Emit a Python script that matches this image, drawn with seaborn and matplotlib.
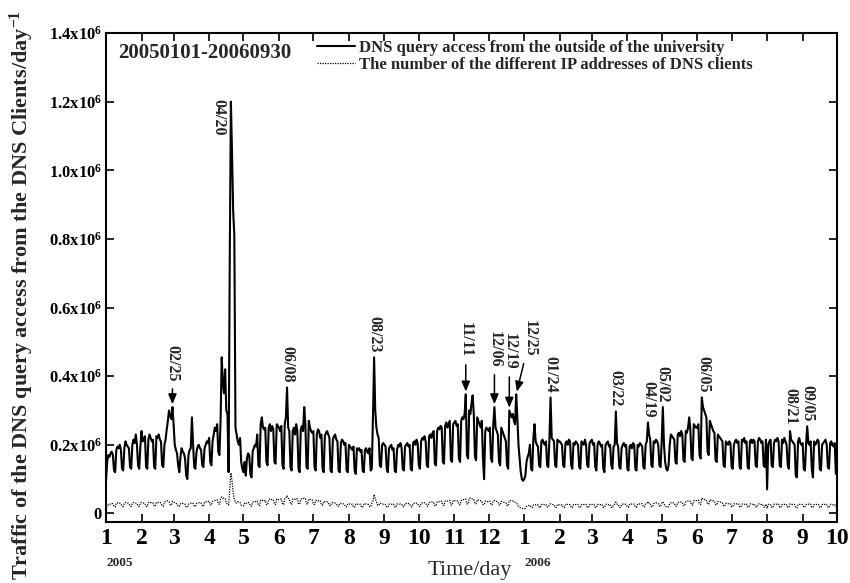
import numpy as np
import pandas as pd
import matplotlib
matplotlib.use("Agg")
import matplotlib.pyplot as plt
import seaborn as sns

# ---------------- data (values in thousands per day) ----------------
month_starts = ["2005-01-01", "2005-02-01", "2005-03-01", "2005-04-01", "2005-05-01",
                "2005-06-01", "2005-07-01", "2005-08-01", "2005-09-01", "2005-10-01",
                "2005-11-01", "2005-12-01", "2006-01-01", "2006-02-01", "2006-03-01",
                "2006-04-01", "2006-05-01", "2006-06-01", "2006-07-01", "2006-08-01",
                "2006-09-01"]

dns_k = [
    [95,150,170,165,175,180,170,125,120,185,195,190,200,185,130,125,190,210,200,195,190,135,130,200,215,205,230,200,140,130,195],
    [240,210,215,225,135,130,215,230,220,210,215,135,130,225,220,230,215,210,140,135,200,215,245,270,300,285,275,310],
    [260,200,185,175,140,120,165,190,180,175,160,110,100,170,185,190,280,200,135,130,180,195,200,190,185,140,135,190,200,210,205],
    [220,150,140,210,230,250,240,260,180,170,270,455,380,350,420,300,290,120,740,1200,1050,880,810,250,230,210,200,220,150,130],
    [120,150,110,160,175,170,115,105,180,190,200,195,230,140,135,260,280,250,245,250,150,140,250,260,240,255,245,150,145,260,255],
    [250,240,255,140,130,260,280,367,250,240,135,125,240,250,230,260,240,130,120,245,255,240,310,260,135,130,270,250,240,235],
    [240,135,125,230,245,240,220,230,130,120,225,235,240,230,220,125,120,215,225,230,215,210,125,120,205,215,210,200,205,125,120],
    [200,195,190,185,195,125,115,190,185,190,180,185,125,120,185,190,180,175,190,125,130,280,455,300,250,230,220,140,135,200,205],
    [200,195,130,120,190,195,200,185,190,125,120,185,200,195,205,190,130,125,195,200,205,195,200,130,125,205,210,200,215,205],
    [140,130,210,220,215,225,210,140,135,225,230,220,235,240,145,140,240,250,245,255,250,150,145,255,265,250,260,270,155,150,260],
    [265,270,255,260,160,150,270,280,275,290,347,170,160,300,290,320,344,290,165,155,280,270,260,250,270,160,100,240,250,245],
    [240,250,160,150,260,310,250,240,230,150,140,250,240,230,220,210,140,130,300,290,280,290,270,260,347,280,200,160,120,100,95],
    [100,110,150,165,175,200,130,125,220,260,210,200,195,140,135,210,215,205,200,210,140,135,215,338,220,215,210,140,135,215,210],
    [210,205,200,140,135,205,210,200,215,210,140,130,205,200,210,205,200,135,130,210,205,200,215,200,140,135,205,210],
    [215,200,205,135,125,200,210,205,195,200,130,120,200,205,210,195,200,140,130,195,200,297,205,195,135,130,190,200,205,195,200],
    [130,125,195,200,190,205,200,130,125,200,195,205,200,195,135,130,200,210,265,230,215,140,135,210,205,215,210,200,140,135],
    [210,310,200,150,130,125,140,200,230,225,220,215,150,145,230,235,225,240,230,155,150,240,235,250,280,245,160,155,260,255,250],
    [250,260,170,160,338,310,300,290,280,180,170,270,260,250,240,235,155,150,230,225,220,215,210,140,135,210,205,200,210,205],
    [135,130,200,210,215,205,210,135,130,215,210,220,205,210,135,130,210,215,205,215,210,140,135,210,220,215,205,210,140,135,215],
    [70,200,210,215,140,135,205,215,210,220,210,140,135,215,205,220,210,200,140,130,240,215,210,205,200,110,105,210,220,205,200],
    [205,130,125,200,254,205,200,210,130,105,210,200,205,215,210,130,125,200,205,210,215,200,135,130,205,210,200,195,205,115],
]

ip_k = [
    [18,20,25,28,27,29,28,20,19,30,31,29,30,28,21,20,30,32,31,30,29,22,20,30,32,31,30,29,21,20,31],
    [32,31,30,29,21,20,31,33,32,30,31,22,21,32,31,33,32,30,22,21,33,35,37,36,34,25,24,35],
    [34,30,29,28,21,20,28,30,29,28,27,19,18,27,29,30,31,29,21,20,29,30,31,32,30,22,21,33,34,33,35],
    [36,25,24,35,37,38,39,40,28,27,42,48,44,45,43,30,28,25,70,118,95,60,40,32,30,34,33,32,24,23],
    [22,30,28,31,32,31,22,21,33,34,35,34,36,24,23,38,40,37,36,38,26,25,40,42,39,41,40,27,26,42,41],
    [40,41,42,27,26,43,45,52,44,42,28,27,42,43,41,44,42,28,27,41,43,42,45,43,28,27,42,41,40,39],
    [27,26,38,37,36,38,37,25,24,35,34,33,34,32,23,22,31,32,31,30,29,21,20,29,30,29,28,27,20,19,28],
    [28,27,26,27,19,18,27,26,27,26,27,19,18,27,26,28,27,26,20,19,30,36,55,42,35,24,23,30,29,28,27],
    [27,26,19,18,27,28,27,26,27,19,18,27,28,27,28,27,20,19,28,29,28,29,28,20,19,29,30,29,30,29],
    [21,20,30,31,32,31,30,22,21,32,33,34,33,32,23,22,34,35,34,36,35,24,23,36,37,36,37,38,25,24,38],
    [37,38,37,36,26,25,38,39,40,41,42,28,27,44,45,43,42,41,29,28,40,39,38,37,36,26,25,36,35,34],
    [35,36,26,25,37,38,36,35,34,25,24,35,34,33,32,31,23,22,36,38,37,36,35,33,30,27,22,18,16,15,14],
    [14,15,20,22,23,24,18,17,25,26,25,24,25,18,17,26,27,26,25,26,19,18,26,28,27,26,25,18,17,26,25],
    [26,25,26,18,17,26,27,26,25,26,18,17,26,25,26,27,26,18,17,26,25,26,27,26,18,17,26,27],
    [26,27,26,18,17,26,27,26,25,26,18,17,26,27,26,25,26,18,17,26,27,33,27,26,18,17,26,27,28,27,26],
    [19,18,27,28,27,28,27,19,18,28,27,28,29,28,20,19,28,29,34,30,29,20,19,29,30,31,30,29,21,20],
    [30,34,28,22,19,18,20,29,31,32,31,30,22,21,32,33,34,33,32,23,22,34,35,36,37,36,25,24,37,38,37],
    [38,39,27,26,45,42,41,40,39,28,27,40,39,38,37,36,26,25,35,34,33,32,31,22,21,30,29,28,29,28],
    [20,19,28,27,28,27,28,19,18,27,28,27,26,27,19,18,27,28,27,26,27,19,18,27,28,27,26,27,19,18,27],
    [15,26,27,26,18,17,27,26,27,26,27,18,17,26,27,26,27,26,18,17,28,27,26,27,26,17,16,26,27,26,25],
    [26,19,18,26,28,27,26,27,18,17,26,27,26,27,26,18,17,26,27,26,27,26,18,17,26,27,26,25,26,18],
]

series_labels = ["DNS query access from the outside of the university",
                 "The number of the different IP addresses of DNS clients"]
period_label = "20050101-20060930"
month_tick_labels = ["1","2","3","4","5","6","7","8","9","10","11","12",
                     "1","2","3","4","5","6","7","8","9","10"]
year_labels = ["2005", "2006"]
year_dates = ["2005-01-01", "2006-01-01"]
y_tick_values = [0, 200000, 400000, 600000, 800000, 1000000, 1200000, 1400000]
y_tick_labels = ["0", "0.2x10$^6$", "0.4x10$^6$", "0.6x10$^6$", "0.8x10$^6$",
                 "1.0x10$^6$", "1.2x10$^6$", "1.4x10$^6$"]
ann_labels = ["02/25", "04/20", "06/08", "08/23", "11/11", "12/06", "12/19", "12/25",
              "01/24", "03/22", "04/19", "05/02", "06/05", "08/21", "09/05"]
ann_dates = ["2005-02-28", "2005-04-20", "2005-06-08", "2005-08-23", "2005-11-11",
             "2005-12-06", "2005-12-19", "2005-12-25", "2006-01-24", "2006-03-22",
             "2006-04-19", "2006-05-02", "2006-06-05", "2006-08-21", "2006-09-05"]

# ---------------- build table ----------------
frames = []
for start, d, ip in zip(month_starts, dns_k, ip_k):
    n = min(len(d), len(ip))
    frames.append(pd.DataFrame({
        "date": pd.date_range(start, periods=n, freq="D"),
        "dns": np.array(d[:n], dtype=float) * 1000,
        "ip": np.array(ip[:n], dtype=float) * 1000,
    }))
df = pd.concat(frames, ignore_index=True)

# ---------------- style ----------------
sns.set_style("ticks")
plt.rcParams["font.family"] = ["Liberation Serif", "DejaVu Serif"]
plt.rcParams["font.weight"] = "bold"
plt.rcParams["mathtext.fontset"] = "custom"
plt.rcParams["mathtext.rm"] = "Liberation Serif:bold"
plt.rcParams["mathtext.bf"] = "Liberation Serif:bold"
plt.rcParams["mathtext.it"] = "Liberation Serif:bold:italic"
plt.rcParams["mathtext.default"] = "rm"

W, H = 850, 583
fig = plt.figure(figsize=(W / 100, H / 100), dpi=100)
L, R, T, B = 106, 837, 33, 522
ax = fig.add_axes([L / W, 1 - B / H, (R - L) / W, (B - T) / H])

sns.lineplot(data=df, x="date", y="dns", color="black", linewidth=1.5,
             ax=ax, label=series_labels[0])
sns.lineplot(data=df, x="date", y="ip", color="black", linewidth=0.9,
             linestyle=(0, (1, 1)), ax=ax, label=series_labels[1])

x0, x1 = pd.Timestamp("2005-01-01"), pd.Timestamp("2006-10-01")
ax.set_xlim(x0, x1)
ax.set_ylim(-25000, 1400000)

ticks = pd.date_range(x0, x1, freq="MS")
ax.set_xticks(ticks)
ax.set_xticklabels(month_tick_labels, fontsize=17, fontweight="bold")
ax.set_yticks(y_tick_values)
ax.set_yticklabels(y_tick_labels, fontsize=12, fontweight="bold")
ax.tick_params(direction="in", length=6, width=1.2, top=True, right=True,
               colors="black")
ax.tick_params(axis="x", pad=4)
ax.tick_params(axis="y", pad=3)
for s in ax.spines.values():
    s.set_linewidth(1.5)
    s.set_color("black")
ax.set_xlabel("")
ax.set_ylabel("")

# year labels under the first month ticks
for lab, d in zip(year_labels, year_dates):
    ax.annotate(lab, xy=(pd.Timestamp(d), 0), xycoords=("data", "axes fraction"),
                xytext=(0, -25), textcoords="offset points", ha="left", va="top",
                fontsize=9.5, fontweight="bold")

# axis titles
fig.text(470 / W, 1 - 571 / H, "Time/day", ha="center", va="center",
         fontsize=16, fontweight="normal")
fig.text(22 / W, 1 - 295 / H,
         "Traffic of the DNS query access from the DNS Clients/day$^{-1}$",
         rotation=90, ha="center", va="center", fontsize=16, fontweight="bold")

# period label
ax.text((118 - L) / (R - L), (B - 53) / (B - T), period_label, transform=ax.transAxes,
        ha="left", va="center", fontsize=15, fontweight="bold")

# legend
leg = ax.legend(loc="upper left", bbox_to_anchor=(317 / W, 1 - 40 / H),
                bbox_transform=fig.transFigure, frameon=False, borderpad=0,
                borderaxespad=0, handlelength=2.3, handletextpad=0.2,
                labelspacing=0.05,
                prop={"family": "Liberation Serif", "weight": "bold", "size": 12})

# annotations
values = df.set_index("date")["dns"]
arrow_style = dict(arrowstyle="-|>,head_length=0.6,head_width=0.25", color="black",
                   lw=1.1, mutation_scale=10, shrinkA=3, shrinkB=2)
ann_offsets = {  # (dx, dy) in points, arrow flag, vertical alignment
    "02/25": (0, 18.5, True, "bottom"),
    "04/20": (-9, 2, False, "top"),
    "06/08": (0, 3.6, False, "bottom"),
    "08/23": (0, 3.6, False, "bottom"),
    "11/11": (0, 26.6, True, "bottom"),
    "12/06": (0, 28.6, True, "bottom"),
    "12/19": (0, 29.5, True, "bottom"),
    "12/25": (9.9, 27.4, True, "bottom"),
    "01/24": (0, 3.6, False, "bottom"),
    "03/22": (0, 3.6, False, "bottom"),
    "04/19": (0, 3.6, False, "bottom"),
    "05/02": (0, 3.6, False, "bottom"),
    "06/05": (1.4, 3.6, False, "bottom"),
    "08/21": (0, 4.5, False, "bottom"),
    "09/05": (0, 3.6, False, "bottom"),
}
for lab, d in zip(ann_labels, ann_dates):
    dt = pd.Timestamp(d)
    v = values.loc[dt]
    dx, dy, arrow, va = ann_offsets[lab]
    ax.annotate(lab, xy=(dt, v), xytext=(dx, dy), textcoords="offset points",
                rotation=270, ha="center", va=va, fontsize=11.5, fontweight="bold",
                arrowprops=arrow_style if arrow else None)

fig.savefig("out.png", dpi=100)
